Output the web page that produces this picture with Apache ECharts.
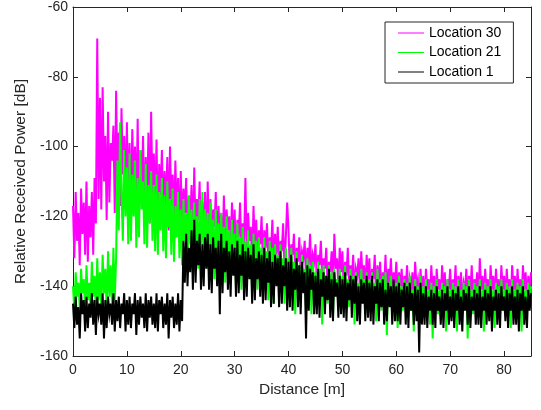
<!DOCTYPE html>
<html>
<head>
<meta charset="UTF-8">
<title>Relative Received Power vs Distance</title>
<script type="text/javascript" src="https://cdn.jsdelivr.net/npm/echarts@6/dist/echarts.min.js"></script>
<style>
  *{margin:0;padding:0}
  html,body{width:100%;height:100%;background:#fff}
  #main{width:541px;height:410px}
</style>
</head>
<body>
<div id="main"></div>
<script type="text/javascript">
// distance step of the samples below, in metres (0 .. 85)
var step = 0.25;

// Location 30 (magenta)
var loc30 = [
  -117,-132,-113,-127,-119,-134,-112,-125,-116,-131,-110,-133,-117,-126,-113,-131,-109,-122,-69,-115,
  -86,-118,-83,-110,-97,-121,-90,-116,-99,-104,-94,-119,-84,-111,-96,-117,-89,-108,-97,-116,
  -93,-115,-99,-120,-95,-110,-100,-118,-92,-121,-101,-112,-97,-119,-103,-117,-96,-122,-90,-114,
  -102,-119,-98,-123,-105,-114,-101,-121,-107,-118,-103,-124,-100,-117,-108,-123,-104,-120,-109,-125,
  -107,-124,-112,-119,-109,-127,-114,-122,-111,-128,-106,-125,-115,-121,-110,-128,-116,-124,-113,-129,
  -110,-126,-115,-130,-118,-123,-113,-129,-117,-125,-119,-131,-114,-127,-118,-124,-120,-130,-116,-128,
  -118,-132,-121,-126,-116,-130,-122,-128,-109,-131,-119,-127,-123,-133,-117,-129,-121,-132,-124,-128,
  -120,-134,-124,-129,-122,-133,-126,-130,-121,-135,-125,-131,-123,-134,-127,-130,-122,-135,-126,-116,
  -124,-136,-128,-131,-125,-137,-129,-133,-126,-136,-130,-132,-127,-138,-129,-134,-125,-137,-131,-133,
  -128,-139,-131,-134,-127,-138,-132,-135,-129,-140,-133,-136,-130,-139,-125,-135,-132,-140,-129,-136,
  -130,-141,-133,-137,-129,-140,-134,-138,-131,-142,-135,-137,-132,-141,-130,-138,-134,-142,-131,-139,
  -132,-142,-135,-138,-131,-143,-134,-139,-133,-142,-136,-140,-131,-143,-135,-139,-132,-142,-136,-140,
  -133,-143,-136,-140,-135,-144,-137,-141,-134,-143,-138,-141,-136,-144,-133,-140,-138,-145,-135,-142,
  -137,-145,-135,-141,-138,-144,-134,-142,-137,-145,-135,-141,-138,-144,-134,-142,-136,-145,-138,-141,
  -135,-144,-138,-141,-134,-145,-137,-142,-136,-144,-139,-141,-135,-145,-137,-142,-134,-144,-138,-141,
  -136,-145,-132,-141,-137,-144,-135,-142,-138,-145,-134,-141,-137,-144,-135,-142,-138,-145,-134,-141,
  -137,-144,-135,-142,-138,-145,-134,-141,-137,-144,-135,-142,-138,-145,-134,-141,-136,-144,-137,-142,-136
];

// Location 21 (green)
var loc21 = [
  -140,-147,-136,-143,-139,-146,-135,-142,-138,-147,-134,-144,-139,-146,-133,-143,-137,-147,-132,-144,
  -136,-146,-131,-142,-135,-147,-130,-143,-134,-146,-129,-144,-132,-104,-124,-93,-113,-127,-101,-120,
  -106,-128,-102,-127,-108,-120,-104,-129,-109,-126,-101,-118,-110,-128,-105,-129,-111,-122,-107,-127,
  -111,-130,-108,-131,-113,-124,-109,-130,-114,-132,-110,-123,-115,-131,-112,-133,-117,-126,-113,-132,
  -118,-134,-115,-127,-119,-135,-114,-128,-118,-134,-116,-129,-120,-135,-115,-128,-113,-135,-118,-129,
  -119,-137,-116,-130,-121,-138,-118,-131,-122,-137,-119,-132,-123,-139,-120,-131,-124,-138,-121,-133,
  -125,-140,-122,-133,-126,-141,-123,-134,-127,-140,-124,-135,-128,-142,-125,-134,-127,-141,-126,-136,
  -129,-143,-126,-136,-130,-144,-127,-137,-129,-145,-128,-138,-131,-144,-128,-137,-132,-145,-129,-139,
  -132,-146,-129,-139,-133,-148,-130,-140,-134,-146,-131,-141,-135,-147,-132,-140,-134,-148,-133,-141,
  -136,-146,-133,-142,-135,-151,-134,-142,-137,-145,-134,-143,-136,-149,-135,-142,-138,-146,-135,-144,
  -137,-147,-134,-144,-138,-146,-135,-143,-137,-151,-136,-144,-139,-147,-135,-145,-138,-148,-136,-144,
  -138,-146,-136,-145,-139,-150,-135,-144,-138,-147,-137,-146,-136,-154,-139,-145,-137,-147,-140,-145,
  -139,-152,-137,-146,-140,-147,-138,-145,-139,-148,-137,-147,-141,-153,-138,-146,-140,-147,-137,-146,
  -140,-148,-138,-147,-141,-151,-139,-155,-140,-147,-138,-148,-141,-146,-139,-147,-140,-153,-138,-147,
  -141,-147,-139,-146,-140,-153,-138,-147,-141,-148,-139,-146,-140,-155,-138,-147,-141,-148,-139,-146,
  -140,-148,-138,-147,-141,-153,-139,-146,-140,-147,-138,-147,-141,-152,-139,-146,-140,-148,-138,-147,
  -141,-148,-139,-146,-140,-152,-138,-147,-141,-147,-139,-146,-140,-153,-138,-147,-141,-148,-139,-146,-140
];

// Location 1 (black)
var loc1 = [
  -145,-152,-143,-151,-146,-155,-142,-148,-144,-153,-143,-152,-145,-149,-142,-151,-144,-154,-143,-148,
  -145,-151,-142,-155,-144,-152,-143,-148,-145,-151,-142,-153,-144,-150,-143,-152,-145,-148,-142,-153,
  -144,-151,-143,-152,-145,-148,-142,-154,-144,-151,-143,-149,-145,-152,-142,-153,-144,-149,-143,-151,
  -145,-152,-142,-153,-144,-148,-143,-152,-145,-151,-142,-155,-144,-149,-143,-152,-145,-151,-142,-153,
  -144,-150,-127,-139,-125,-140,-129,-136,-124,-141,-121,-139,-127,-134,-125,-141,-128,-140,-126,-135,
  -125,-141,-128,-142,-126,-135,-129,-140,-127,-148,-125,-142,-129,-136,-127,-141,-130,-143,-128,-137,
  -129,-143,-127,-142,-131,-137,-128,-144,-130,-143,-129,-138,-131,-145,-128,-144,-132,-138,-130,-143,
  -131,-145,-129,-144,-132,-139,-130,-146,-133,-145,-131,-140,-132,-146,-130,-145,-134,-140,-132,-147,
  -133,-146,-131,-147,-135,-141,-132,-146,-134,-148,-133,-142,-136,-155,-134,-147,-135,-141,-136,-148,
  -137,-148,-135,-149,-138,-143,-136,-148,-137,-144,-135,-149,-138,-150,-136,-143,-139,-149,-137,-148,
  -138,-149,-136,-150,-139,-144,-137,-149,-138,-145,-137,-150,-140,-151,-138,-145,-139,-150,-137,-149,
  -139,-150,-137,-151,-140,-145,-138,-150,-139,-146,-138,-151,-141,-150,-139,-146,-140,-151,-138,-150,
  -140,-150,-139,-151,-141,-146,-139,-151,-140,-152,-139,-147,-142,-151,-140,-150,-141,-159,-139,-151,
  -142,-151,-140,-152,-143,-147,-141,-151,-142,-152,-140,-147,-143,-151,-141,-152,-142,-147,-140,-151,
  -143,-150,-141,-152,-142,-147,-140,-151,-143,-153,-141,-147,-142,-151,-140,-152,-143,-147,-141,-151,
  -142,-151,-140,-152,-143,-147,-141,-151,-142,-150,-140,-153,-143,-147,-141,-151,-142,-152,-140,-147,
  -143,-150,-141,-152,-142,-147,-140,-151,-143,-151,-141,-153,-142,-147,-140,-151,-143,-152,-141,-147,-142
];

var seriesNames = ['Location 30', 'Location 21', 'Location 1'];
var seriesColors = ['#ff00ff', '#00ff00', '#000000'];

function toPoints(arr) {
  return arr.map(function (v, i) { return [i * step, v]; });
}

var axisColor = '#262626';
var font = 'Liberation Sans, Arial, Helvetica, sans-serif';

function xAx(pos, labels) {
  return {
    type: 'value', position: pos, min: 0, max: 85, interval: 10,
    name: labels ? 'Distance [m]' : '', nameLocation: 'middle', nameGap: 26,
    nameTextStyle: {color: axisColor, fontSize: 15.5, fontFamily: font},
    axisLine: {show: true, onZero: false, lineStyle: {color: axisColor, width: 1}},
    axisTick: {show: true, inside: true, length: 5, lineStyle: {color: axisColor}},
    axisLabel: {show: labels, showMaxLabel: false, color: axisColor, fontSize: 14, fontFamily: font, margin: 7},
    splitLine: {show: false}
  };
}
function yAx(pos, labels) {
  return {
    type: 'value', position: pos, min: -160, max: -60, interval: 20,
    name: labels ? 'Relative Received Power [dB]' : '', nameLocation: 'middle', nameGap: 42,
    nameTextStyle: {color: axisColor, fontSize: 15.5, fontFamily: font},
    axisLine: {show: true, onZero: false, lineStyle: {color: axisColor, width: 1}},
    axisTick: {show: true, inside: true, length: 5, lineStyle: {color: axisColor}},
    axisLabel: {show: labels, color: axisColor, fontSize: 14, fontFamily: font, margin: 5},
    splitLine: {show: false}
  };
}

var option = {
  animation: false,
  backgroundColor: '#fff',
  grid: {left: 73, right: 10, top: 6, bottom: 54, containLabel: false},
  legend: {
    left: 385, top: 22, orient: 'vertical',
    data: seriesNames,
    icon: 'rect', itemWidth: 26, itemHeight: 1, itemGap: 3.5,
    padding: [3, 12, 3, 13],
    borderColor: axisColor, borderWidth: 1, backgroundColor: '#fff',
    textStyle: {color: '#000', fontSize: 14, fontFamily: font, lineHeight: 16}
  },
  xAxis: [xAx('bottom', true), xAx('top', false)],
  yAxis: [yAx('left', true), yAx('right', false)],
  series: [loc30, loc21, loc1].map(function (arr, k) {
    return {
      name: seriesNames[k], type: 'line', xAxisIndex: 0, yAxisIndex: 0,
      data: toPoints(arr), showSymbol: false, symbol: 'none', sampling: null,
      color: seriesColors[k],
      lineStyle: {width: 2, color: seriesColors[k], join: 'miter'}
    };
  })
};

var myChart = echarts.init(document.getElementById('main'), null, {renderer: 'canvas'});
myChart.setOption(option);
</script>
</body>
</html>
